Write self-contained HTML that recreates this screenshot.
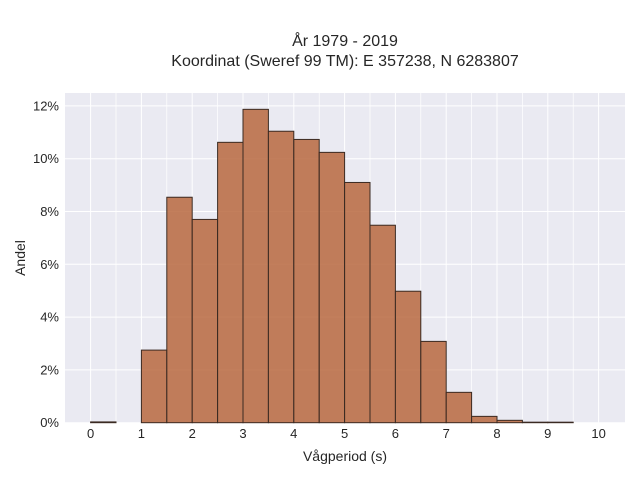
<!DOCTYPE html>
<html><head><meta charset="utf-8"><style>
body{margin:0;background:#fff;}
svg text{font-family:"Liberation Sans",sans-serif;fill:#262626;}
</style></head><body>
<svg id="chart" width="640" height="480" xmlns="http://www.w3.org/2000/svg">
<rect x="0" y="0" width="640" height="480" fill="#fff"/>
<text x="345" y="46" text-anchor="middle" font-size="16">År 1979 - 2019</text>
<text x="345" y="66" text-anchor="middle" font-size="16">Koordinat (Sweref 99 TM): E 357238, N 6283807</text>
<rect x="65" y="93" width="560" height="330" fill="#eaeaf2"/>
<g id="grid"></g>
<g id="bars"></g>
<g id="ticks"></g>
<text x="345" y="461" text-anchor="middle" font-size="14">Vågperiod (s)</text>
<text x="0" y="0" transform="translate(25,258) rotate(-90)" text-anchor="middle" font-size="14">Andel</text>
</svg>
<script>
const binStarts=[0,0.5,1,1.5,2,2.5,3,3.5,4,4.5,5,5.5,6,6.5,7,7.5,8,8.5,9];
const shares=[0.03,0,2.75,8.54,7.70,10.62,11.87,11.04,10.73,10.24,9.10,7.48,4.98,3.08,1.15,0.24,0.09,0.02,0.02];
const xTicks=[0,1,2,3,4,5,6,7,8,9,10];
const yTicks=[0,2,4,6,8,10,12];
const binWidth=0.5;
const NS="http://www.w3.org/2000/svg";
const X=v=>90.6+v*50.8;
const Y=v=>422.7-v*26.4;
const grid=document.getElementById('grid'),bars=document.getElementById('bars'),ticks=document.getElementById('ticks');
function mk(tag,attrs,parent){const e=document.createElementNS(NS,tag);for(const k in attrs)e.setAttribute(k,attrs[k]);parent.appendChild(e);return e;}
for(let i=0;i<=20;i++){const v=i*0.5;const l=mk('line',{x1:X(v),x2:X(v),y1:93,y2:423,stroke:'#fff','stroke-width':i%2?0.7:1},grid);

}
yTicks.forEach(v=>{const l=mk('line',{x1:65,x2:625,y1:Y(v),y2:Y(v),stroke:'#fff','stroke-width':1},grid);


const t=mk('text',{x:59,y:Y(v)+4.5,'text-anchor':'end','font-size':13},ticks);t.textContent=v+'%';

});
xTicks.forEach(v=>{const t=mk('text',{x:X(v),y:438,'text-anchor':'middle','font-size':13},ticks);t.textContent=v;

});
binStarts.forEach((b,i)=>{const v=shares[i];if(v<=0)return;const r=mk('rect',{x:X(b),y:Y(v),width:X(b+binWidth)-X(b),height:Y(0)-Y(v),fill:'rgba(184,105,63,0.85)',stroke:'#3a2a22','stroke-width':1},bars);

});
</script>
</body></html>
